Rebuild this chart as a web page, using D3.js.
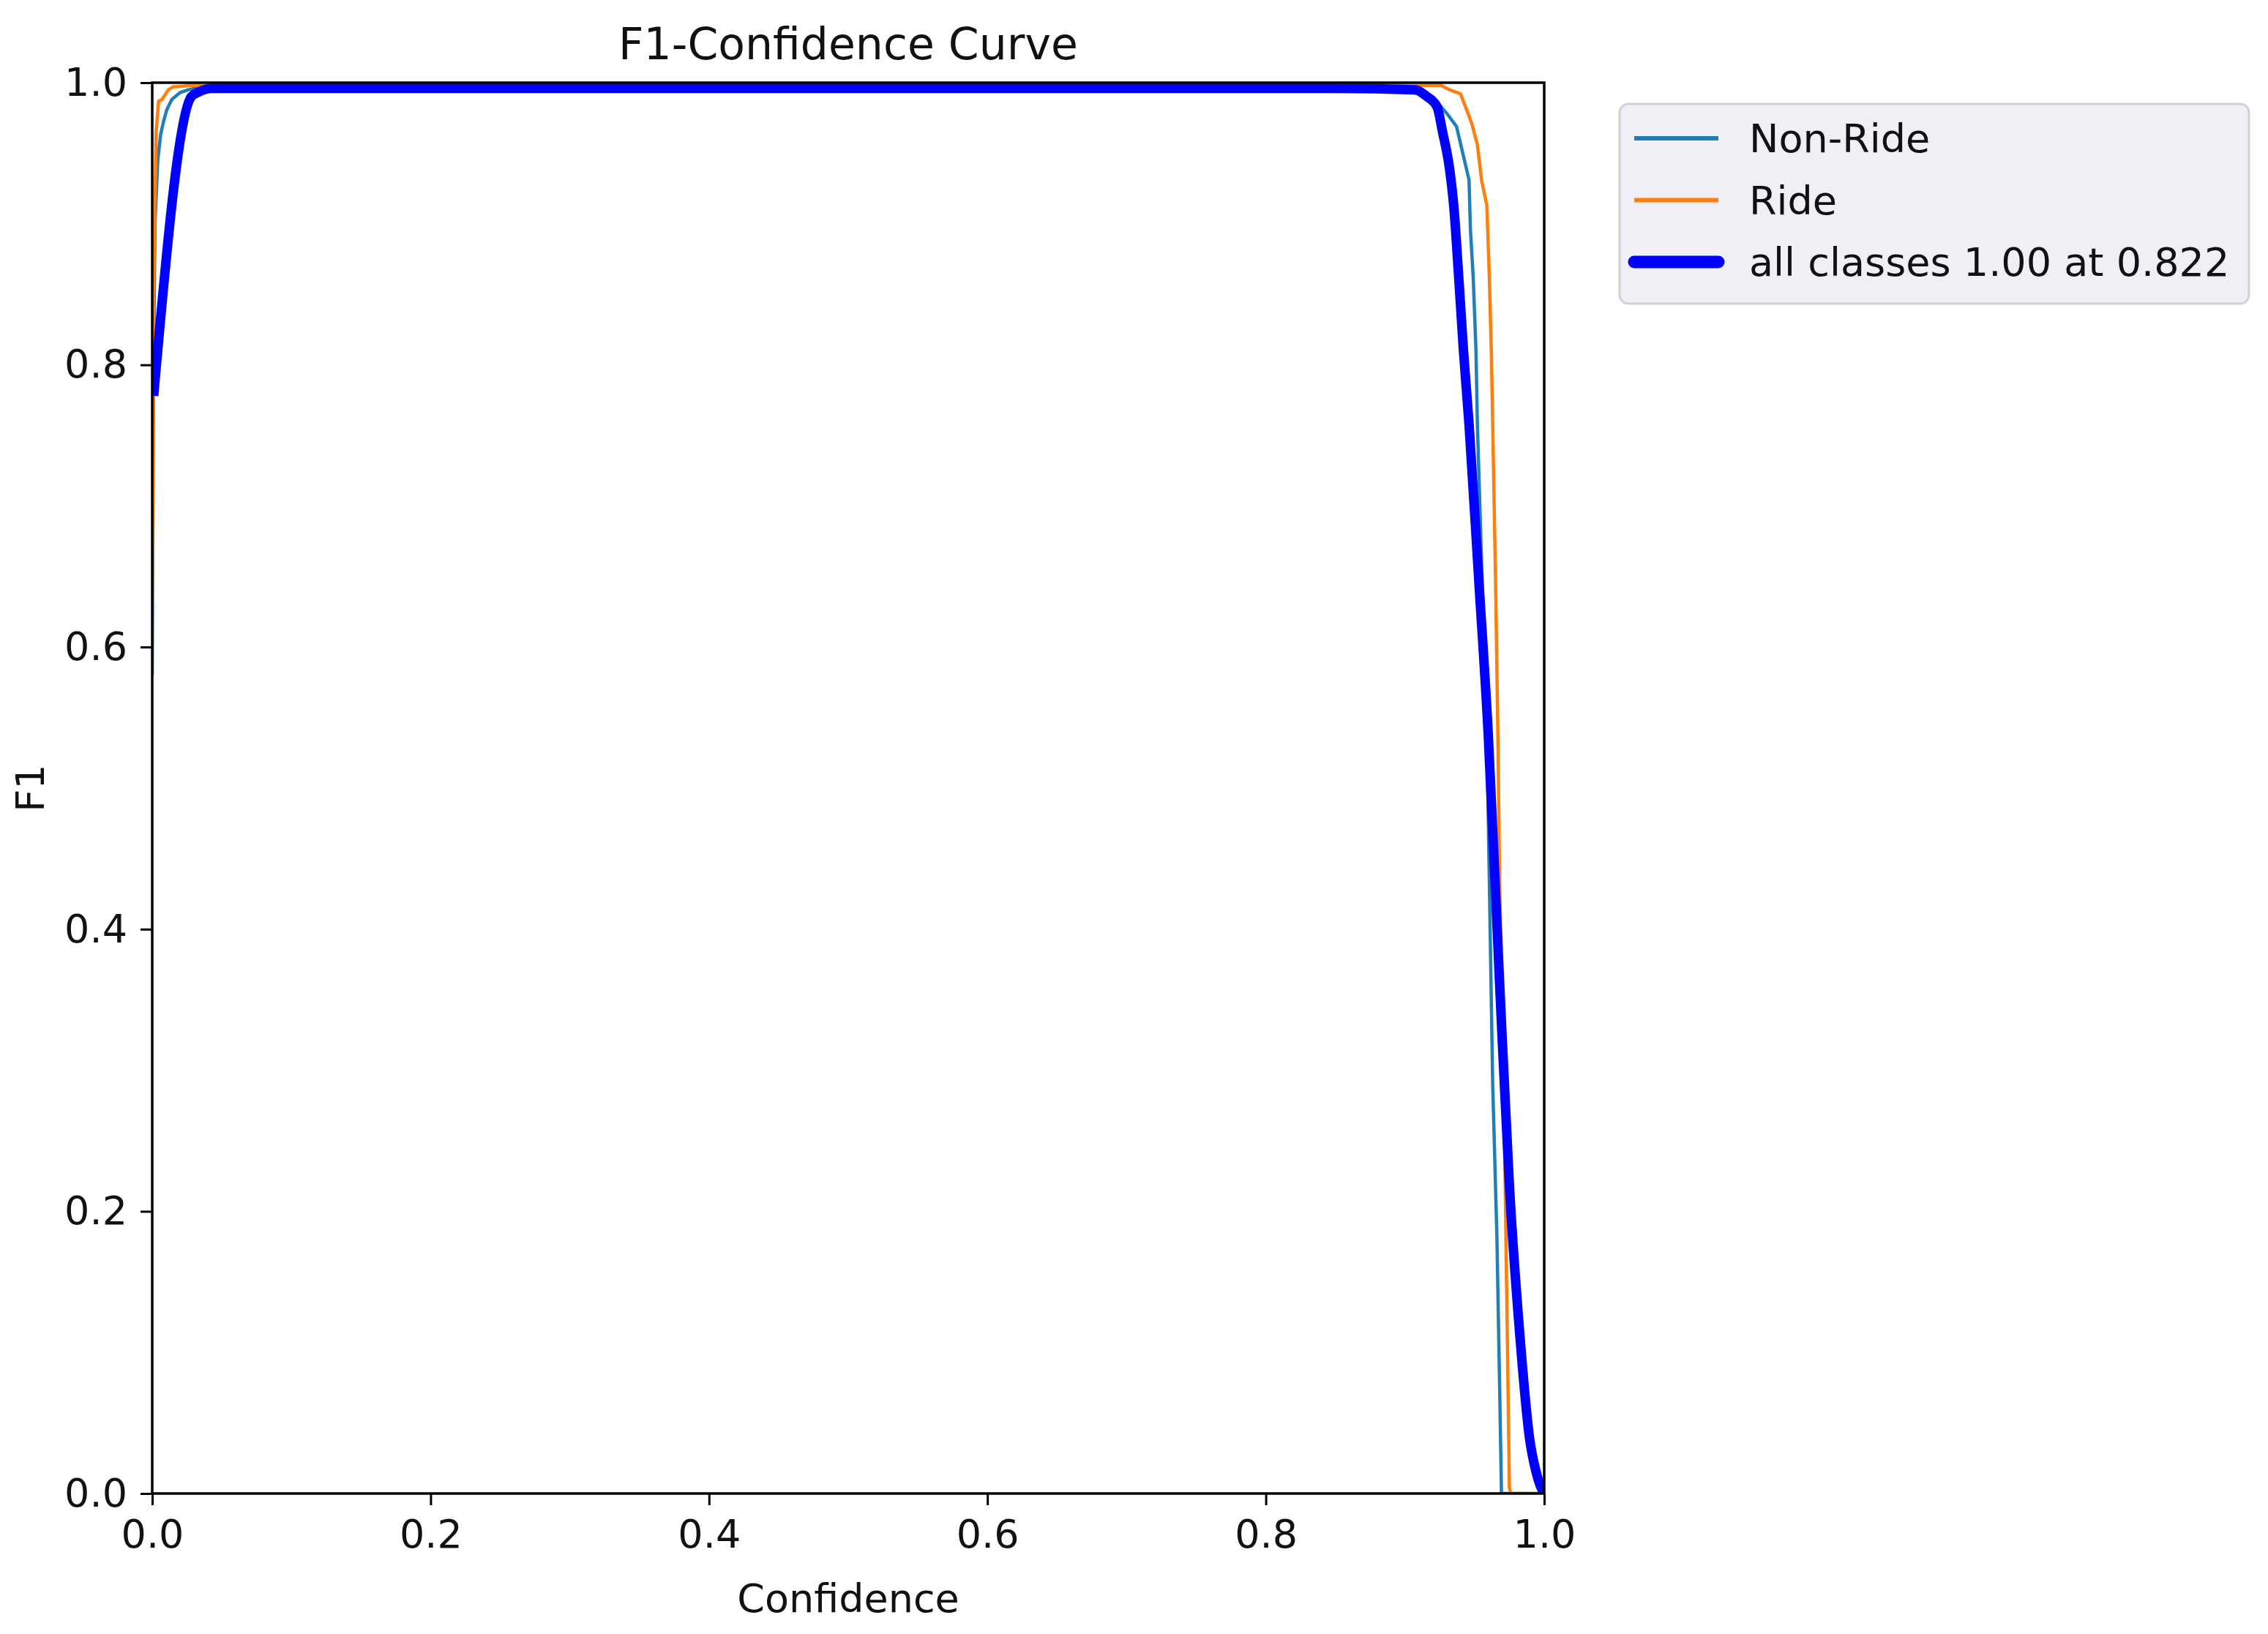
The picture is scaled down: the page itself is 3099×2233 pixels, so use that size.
<!DOCTYPE html>
<html>
<head>
<meta charset="utf-8">
<script src="https://cdn.jsdelivr.net/npm/d3@7"></script>
<style>
  body { margin: 0; background: #ffffff; }
  text { font-family: "DejaVu Sans", sans-serif; fill: #111; }
</style>
</head>
<body>
<div id="grafico"></div>
<script>
// values
var nonRideConf = [0, 0.001, 0.002, 0.004, 0.006, 0.008, 0.0105, 0.014, 0.02, 0.026, 0.035, 0.05, 0.5, 0.9, 0.92, 0.931, 0.937, 0.942, 0.946, 0.947, 0.949, 0.951, 0.952, 0.955, 0.9588, 0.9606, 0.963, 0.966, 0.968, 0.9693, 1.0];
var nonRideF1   = [0.58, 0.80, 0.90, 0.945, 0.963, 0.972, 0.981, 0.988, 0.993, 0.995, 0.997, 0.998, 0.998, 0.998, 0.99, 0.977, 0.969, 0.948, 0.931, 0.896, 0.862, 0.81, 0.758, 0.66, 0.54, 0.433, 0.29, 0.183, 0.075, 0.0, 0.0];

var rideConf = [0, 0.001, 0.0028, 0.0046, 0.007, 0.0116, 0.015, 0.027, 0.5, 0.926, 0.932, 0.94, 0.948, 0.952, 0.955, 0.9588, 0.9606, 0.962, 0.963, 0.965, 0.9667, 0.968, 0.971, 0.973, 0.975, 0.976, 1.0];
var rideF1   = [0.63, 0.85, 0.965, 0.987, 0.988, 0.995, 0.997, 0.998, 0.998, 0.998, 0.995, 0.992, 0.971, 0.956, 0.931, 0.913, 0.862, 0.81, 0.758, 0.65, 0.54, 0.433, 0.29, 0.147, 0.004, 0.0, 0.0];

var allConf = [0.001, 0.028, 0.0326, 0.043, 0.5, 0.85, 0.907, 0.916, 0.923, 0.927, 0.932, 0.935, 0.9386, 0.942, 0.946, 0.9529, 0.9597, 0.968, 0.975, 0.9826, 0.9895, 0.994, 0.997, 1.0];
var allF1   = [0.778, 0.99, 0.993, 0.996, 0.996, 0.996, 0.995, 0.99, 0.983, 0.965, 0.939, 0.913, 0.862, 0.81, 0.758, 0.649, 0.54, 0.361, 0.218, 0.111, 0.039, 0.016, 0.006, 0.0];

var tickValues = [0, 0.2, 0.4, 0.6, 0.8, 1.0];
var seriesNames = ["Non-Ride", "Ride", "all classes 1.00 at 0.822"];
var seriesColors = ["#1f7fb6", "#ff7f0e", "#0000ff"];

var ancho = 3099;
var alto = 2233;
var margen = { superior: 113, derecho: 989, inferior: 192, izquierdo: 208 };
var w = ancho - margen.izquierdo - margen.derecho;
var h = alto - margen.superior - margen.inferior;

var svg = d3.select("#grafico")
    .append("svg")
    .attr("width", ancho)
    .attr("height", alto);

var g = svg.append("g")
    .attr("transform", "translate(" + margen.izquierdo + "," + margen.superior + ")");

var x = d3.scaleLinear().domain([0, 1]).range([0, w]);
var y = d3.scaleLinear().domain([0, 1]).range([h, 0]);

g.append("clipPath").attr("id", "clip")
    .append("rect").attr("width", w).attr("height", h);

var series = [
    { conf: nonRideConf, f1: nonRideF1, ancho: 4.5, curva: d3.curveLinear },
    { conf: rideConf, f1: rideF1, ancho: 4.5, curva: d3.curveLinear },
    { conf: allConf, f1: allF1, ancho: 13, curva: d3.curveMonotoneX }
];

series.forEach(function (s, i) {
    var puntos = s.conf.map(function (c, j) { return [c, s.f1[j]]; });
    var linea = d3.line()
        .curve(s.curva)
        .x(function (d) { return x(d[0]); })
        .y(function (d) { return y(d[1]); });
    g.append("path")
        .datum(puntos)
        .attr("clip-path", "url(#clip)")
        .attr("d", linea)
        .style("fill", "none")
        .style("stroke", seriesColors[i])
        .style("stroke-width", s.ancho)
        .style("stroke-linejoin", "round");
});

// frame
g.append("rect")
    .attr("width", w)
    .attr("height", h)
    .style("fill", "none")
    .style("stroke", "#000")
    .style("stroke-width", 3.5);

var ejeX = g.append("g")
    .attr("transform", "translate(0," + h + ")")
    .call(d3.axisBottom(x).tickValues(tickValues).tickFormat(d3.format(".1f")).tickSize(16).tickPadding(20));

var ejeY = g.append("g")
    .call(d3.axisLeft(y).tickValues(tickValues).tickFormat(d3.format(".1f")).tickSize(16).tickPadding(18));

[ejeX, ejeY].forEach(function (eje) {
    eje.select(".domain").remove();
    eje.selectAll("line").style("stroke", "#000").style("stroke-width", 3);
    eje.selectAll("text")
        .style("font-family", "DejaVu Sans")
        .style("font-size", "54px")
        .style("fill", "#111");
});

svg.append("text")
    .attr("x", margen.izquierdo + w / 2)
    .attr("y", 81)
    .attr("text-anchor", "middle")
    .style("font-size", "60px")
    .text("F1-Confidence Curve");

svg.append("text")
    .attr("x", margen.izquierdo + w / 2)
    .attr("y", 2203)
    .attr("text-anchor", "middle")
    .style("font-size", "54px")
    .text("Confidence");

svg.append("text")
    .attr("transform", "translate(60," + (margen.superior + h / 2) + ") rotate(-90)")
    .attr("text-anchor", "middle")
    .style("font-size", "54px")
    .text("F1");

// legend
var leyenda = svg.append("g").attr("transform", "translate(2213,142)");

leyenda.append("rect")
    .attr("width", 860)
    .attr("height", 273)
    .attr("rx", 12)
    .style("fill", "#efeff5")
    .style("stroke", "#d2d2d2")
    .style("stroke-width", 3);

var filaY = d3.scalePoint().domain(seriesNames).range([47, 216]);

leyenda.selectAll(".handle")
    .data(seriesNames)
    .enter().append("line")
    .attr("class", "handle")
    .attr("x1", 20)
    .attr("x2", 135)
    .attr("y1", function (d) { return filaY(d); })
    .attr("y2", function (d) { return filaY(d); })
    .style("stroke", function (d, i) { return seriesColors[i]; })
    .style("stroke-width", function (d, i) { return i == 2 ? 17 : 6; })
    .style("stroke-linecap", function (d, i) { return i == 2 ? "round" : "butt"; });

leyenda.selectAll(".etiqueta")
    .data(seriesNames)
    .enter().append("text")
    .attr("class", "etiqueta")
    .attr("x", 177)
    .attr("y", function (d) { return filaY(d); })
    .attr("dy", "0.36em")
    .style("font-size", "54px")
    .text(function (d) { return d; });
</script>
</body>
</html>
